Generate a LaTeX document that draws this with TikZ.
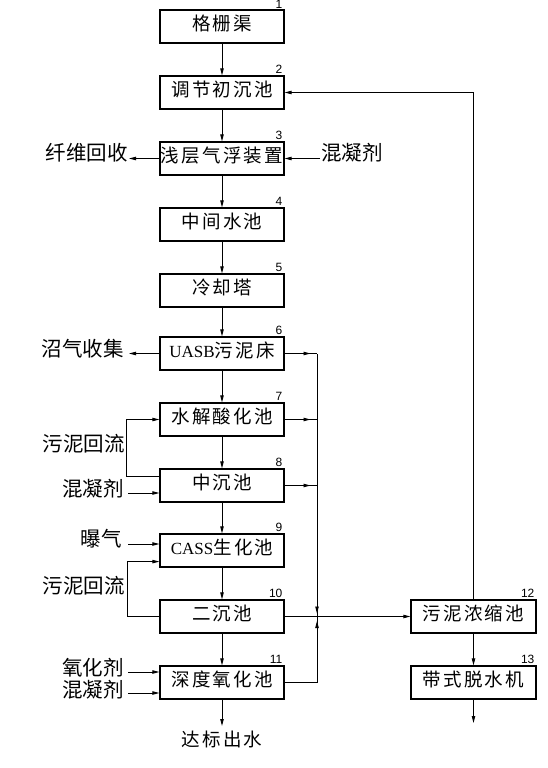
\documentclass[tikz,border=0pt]{standalone}
\usepackage{fontspec}
\setmainfont{Liberation Sans}
\newfontfamily\cjk{Noto Sans CJK SC}
\newfontfamily\cjkbox[LetterSpace=12]{Noto Sans CJK SC}
\newfontfamily\latinbox{Liberation Serif}
\newcommand\lat[1]{{\latinbox\fontsize{17pt}{20pt}\selectfont #1}}
\usetikzlibrary{arrows.meta,decorations.markings,calc}
\tikzset{
  box/.style={draw, line width=1.2pt, minimum width=124pt, minimum height=33pt, inner sep=0pt,
    text height=0.88em, text depth=0.12em, font=\cjkbox\fontsize{18.5pt}{21pt}\selectfont},
  lab/.style={inner sep=0pt, text height=0.88em, text depth=0.12em, font=\cjk\fontsize{20.5pt}{24pt}\selectfont},
  outlab/.style={inner sep=0pt, text height=0.88em, text depth=0.12em, font=\cjkbox\fontsize{18.5pt}{21pt}\selectfont},
  num/.style={inner sep=0pt, anchor=base east, font=\fontsize{12pt}{14pt}\selectfont},
  wire/.style={line width=0.9pt},
  flow/.style={wire, -{Triangle[length=7pt,width=3.4pt]}},
  tipat/.style={wire, postaction={decorate}, decoration={markings, mark=at position #1 with {\arrow{Triangle[length=7pt,width=3.4pt]}}}}
}
\begin{document}
\begin{tikzpicture}[x=1pt,y={(0pt,-1pt)}]
\useasboundingbox (0,0) rectangle (547,768);
\fill[white] (0,0) rectangle (547,768);
% main column
\node[box] (b1) at (222,26.5) {格栅渠};
\node[box] (b2) at (222,92.5) {调节初沉池};
\node[box] (b3) at (222,158.5) {浅层气浮装置};
\node[box] (b4) at (222,224.5) {中间水池};
\node[box] (b5) at (222,290.5) {冷却塔};
\node[box] (b6) at (222,353.5) {\lat{UASB}污泥床};
\node[box] (b7) at (222,419.5) {水解酸化池};
\node[box] (b8) at (222,485.5) {中沉池};
\node[box] (b9) at (222,550.5) {\lat{CASS}生化池};
\node[box] (b10) at (222,616.5) {二沉池};
\node[box] (b11) at (222,682.5) {深度氧化池};
\node[box, minimum width=125pt] (b12) at (473.5,616.5) {污泥浓缩池};
\node[box, minimum width=125pt] (b13) at (473.5,682.5) {带式脱水机};
% numbers
\node[num] (n1) at ([xshift=-2pt,yshift=0.6pt]b1.north east) {1};
\foreach \b/\n in {b2/2,b3/3,b4/4,b5/5,b6/6,b7/7,b8/8,b9/9,b10/10,b11/11,b12/12,b13/13}
  \node[num] (n\n) at ([xshift=-2pt,yshift=2pt]\b.north east) {\n};
% main flow
\foreach \a/\c in {b1/b2,b2/b3,b3/b4,b4/b5,b5/b6,b6/b7,b7/b8,b8/b9,b9/b10,b10/b11,b12/b13}
  \draw[flow] (\a.south) -- (\c.north);
\coordinate (out11) at (222,726);
\coordinate (out13) at (473.5,723);
\draw[flow] (b11.south) -- (out11);
\draw[flow] (b13.south) -- (out13);
\node[outlab] (lout) at (222,743) {达标出水};
% side labels
\coordinate (t3) at (129,158.5);
\draw[flow] (b3.west) -- (t3);
\node[lab, anchor=east] (l3) at (128,157) {纤维回收};
\coordinate (s3) at (320,158.5);
\draw[flow] (s3) -- (b3.east);
\node[lab, anchor=west] (r3) at (321,157) {混凝剂};
\coordinate (t6) at (129,353.5);
\draw[flow] (b6.west) -- (t6);
\node[lab, anchor=east] (l6) at (124,353) {沼气收集};
% sludge return 7/8
\draw[flow] ($(b8.north west)+(0,8)$) -- ++(-33,0) |- (b7.west);
\node[lab, anchor=east] (lr1) at (125,448) {污泥回流};
\coordinate (s8) at (128,493);
\draw[flow] (s8) -- (s8 -| b8.west);
\node[lab, anchor=east] (l8) at (124,493) {混凝剂};
\coordinate (s9) at (128,544);
\draw[flow] (s9) -- (s9 -| b9.west);
\node[lab, anchor=east] (l9) at (122,543) {曝气};
% sludge return 9/10
\draw[flow] (b10.west) -- ++(-32,0) |- ($(b9.south west)+(0,-6)$);
\node[lab, anchor=east] (lr2) at (125,590) {污泥回流};
\coordinate (s11a) at (128,672);
\coordinate (s11b) at (128,693);
\draw[flow] (s11a) -- (s11a -| b11.west);
\draw[flow] (s11b) -- (s11b -| b11.west);
\node[lab, anchor=east] (l11a) at (124,672) {氧化剂};
\node[lab, anchor=east] (l11b) at (124,694) {混凝剂};
% bus
\coordinate (j6) at (317,353.5);
\coordinate (j7) at (317,419.5);
\coordinate (j8) at (317,485.5);
\coordinate (jx) at (317,616.5);
\coordinate (j11) at (317,682.5);
\draw[tipat=0.8] (b6.east) -- (j6);
\draw[tipat=0.8] (b7.east) -- (j7);
\draw[tipat=0.8] (b8.east) -- (j8);
\draw[wire] (b11.east) -- (j11) -- (j6);
\draw[flow] ($(jx)+(0,-20)$) -- ($(jx)+(0,-3)$);
\draw[flow] ($(jx)+(0,20)$) -- ($(jx)+(0,4.5)$);
\draw[flow] (b10.east) -- (b12.west);
% return to 2
\draw[flow] (b12.north) |- (b2.east);
\end{tikzpicture}
\end{document}
